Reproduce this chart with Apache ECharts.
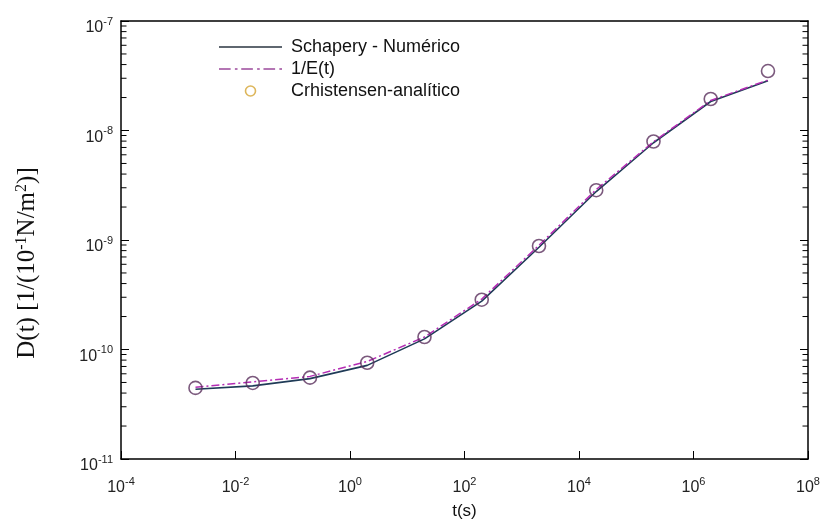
<!DOCTYPE html>
<html><head><meta charset="utf-8">
<script src="https://cdn.jsdelivr.net/npm/echarts@6/dist/echarts.min.js"></script>
<style>html,body{margin:0;padding:0;background:#fff}#c{width:826px;height:525px}</style>
</head><body><div id="c"></div>
<script>
const times = [2e-3, 2e-2, 2e-1, 2e0, 2e1, 2e2, 2e3, 2e4, 2e5, 2e6, 2e7];
const schapery = [4.33e-11, 4.65e-11, 5.42e-11, 7.16e-11, 1.25e-10, 2.77e-10, 8.59e-10, 2.77e-9, 7.73e-9, 1.84e-8, 2.85e-8];
const inverseE = [4.52e-11, 5.06e-11, 5.68e-11, 7.78e-11, 1.30e-10, 2.89e-10, 8.95e-10, 2.89e-9, 7.89e-9, 1.88e-8, 2.89e-8];
const christensen = [4.46e-11, 4.95e-11, 5.53e-11, 7.57e-11, 1.30e-10, 2.85e-10, 8.82e-10, 2.85e-9, 7.94e-9, 1.94e-8, 3.49e-8];
const seriesNames = ['Schapery - Numérico', '1/E(t)', 'Crhistensen-analítico'];
const xRange = [1e-4, 1e8];
const yRange = [1e-11, 1e-7];
const minorDecades = [1e-11, 1e-10, 1e-9, 1e-8];
const minorMantissas = [2, 3, 4, 5, 6, 7, 8, 9];
const xTitle = 't(s)';

const minorTicks = [];
minorDecades.forEach(d => minorMantissas.forEach(m => minorTicks.push(m * d)));

// legend icon shapes (solid line and dash-dot line)
const solidIcon = 'path://M0,0h63v1.6h-63z';
let dd = 'path://';
for (let x = 0; x < 63; x += 21) {
  dd += 'M' + x + ',0h' + Math.min(11, 63 - x) + 'v1.6h-' + Math.min(11, 63 - x) + 'z';
  if (x + 15 < 63) dd += 'M' + (x + 15) + ',0h2.5v1.6h-2.5z';
}
const dashDotIcon = dd;

const sans = 'Liberation Sans, Arial, sans-serif';
const serif = 'Liberation Serif, Times New Roman, serif';
function powLabel(v) {
  const e = Math.round(Math.log10(v));
  return '{b|10}{s|' + e + '}';
}
const richLab = {
  b: {fontSize: 16, lineHeight: 20, verticalAlign: 'bottom', fontFamily: sans, color: '#222'},
  s: {fontSize: 11, lineHeight: 6, verticalAlign: 'top', fontFamily: sans, color: '#222'}
};

const chart = echarts.init(document.getElementById('c'), null, {renderer: 'canvas'});
chart.setOption({
  animation: false,
  backgroundColor: '#fff',
  grid: {left: 121, right: 18, top: 21, bottom: 64, containLabel: false},
  legend: {
    orient: 'vertical', left: 214, top: 33, itemWidth: 63, itemHeight: 10, itemGap: 4,
    symbolKeepAspect: true,
    textStyle: {fontSize: 18, fontFamily: sans, color: '#111', padding: [0, 0, 0, 4]},
    data: [
      {name: seriesNames[0], icon: solidIcon, itemStyle: {color: '#2a3440', borderWidth: 0}},
      {name: seriesNames[1], icon: dashDotIcon, itemStyle: {color: '#9c4a9c', borderWidth: 0}},
      {name: seriesNames[2], icon: 'circle', itemStyle: {color: 'transparent', borderColor: '#d4a432', borderWidth: 1.6}}
    ]
  },
  xAxis: [{
    type: 'log', logBase: 10, min: xRange[0], max: xRange[1], interval: 2,
    name: xTitle, nameLocation: 'middle', nameGap: 44,
    nameTextStyle: {fontSize: 17, fontFamily: sans, color: '#111'},
    axisLine: {lineStyle: {color: '#000', width: 1.5}},
    axisTick: {inside: true, length: 8, lineStyle: {color: '#000', width: 1}},
    axisLabel: {margin: 17, formatter: powLabel, rich: richLab},
    splitLine: {show: false}, minorTick: {show: false}
  }, {
    type: 'log', logBase: 10, min: xRange[0], max: xRange[1], position: 'top',
    axisLine: {lineStyle: {color: '#000', width: 1.5}},
    axisTick: {show: false}, axisLabel: {show: false}, splitLine: {show: false}
  }],
  yAxis: [{
    type: 'log', logBase: 10, min: yRange[0], max: yRange[1], interval: 1,
    axisLine: {lineStyle: {color: '#000', width: 1.5}},
    axisTick: {inside: true, length: 8, lineStyle: {color: '#000', width: 1}},
    axisLabel: {margin: 8, formatter: powLabel, rich: richLab, padding: [10, 0, 0, 0]},
    splitLine: {show: false}
  }, {
    type: 'log', logBase: 10, min: yRange[0], max: yRange[1], interval: 1, position: 'right',
    axisLine: {lineStyle: {color: '#000', width: 1.5}},
    axisTick: {inside: true, length: 8, lineStyle: {color: '#000', width: 1}},
    axisLabel: {show: false}, splitLine: {show: false}
  }],
  graphic: [{
    type: 'text', x: 27, y: 263, rotation: Math.PI / 2,
    style: {
      text: '{a|D(t) [1/(10}{s|-1}{a|N/m}{s|2}{a|)]}',
      align: 'center', verticalAlign: 'middle',
      rich: {
        a: {fontSize: 25, lineHeight: 26, verticalAlign: 'bottom', fontFamily: serif, fill: '#111'},
        s: {fontSize: 16, lineHeight: 12, verticalAlign: 'top', fontFamily: serif, fill: '#111'}
      }
    }
  }],
  series: [{
    name: seriesNames[0], type: 'line', symbol: 'none', showSymbol: false, z: 3,
    data: times.map((t, i) => [t, schapery[i]]),
    lineStyle: {color: '#1f3b57', width: 1.6},
    itemStyle: {color: '#1f3b57'}
  }, {
    name: seriesNames[1], type: 'line', symbol: 'none', showSymbol: false, z: 4,
    data: times.map((t, i) => [t, inverseE[i]]),
    lineStyle: {color: '#b42db4', width: 1.5, type: [8, 3, 2, 3]},
    itemStyle: {color: '#b42db4'}
  }, {
    name: seriesNames[2], type: 'scatter', symbol: 'circle', symbolSize: 13, z: 5,
    data: times.map((t, i) => [t, christensen[i]]),
    itemStyle: {color: 'transparent', borderColor: '#5a2f5c', borderWidth: 1.6}
  }, {
    type: 'custom', silent: true, z: 6, xAxisIndex: 0, yAxisIndex: 0,
    data: minorTicks.map(v => [xRange[0], v]),
    renderItem: function (params, api) {
      const v = api.value(1);
      const l = api.coord([xRange[0], v]);
      const r = api.coord([xRange[1], v]);
      return {type: 'group', children: [
        {type: 'line', shape: {x1: l[0], y1: l[1], x2: l[0] + 5.5, y2: l[1]}, style: {stroke: '#000', lineWidth: 1}},
        {type: 'line', shape: {x1: r[0], y1: r[1], x2: r[0] - 5.5, y2: r[1]}, style: {stroke: '#000', lineWidth: 1}}
      ]};
    }
  }]
});
</script>
</body></html>
